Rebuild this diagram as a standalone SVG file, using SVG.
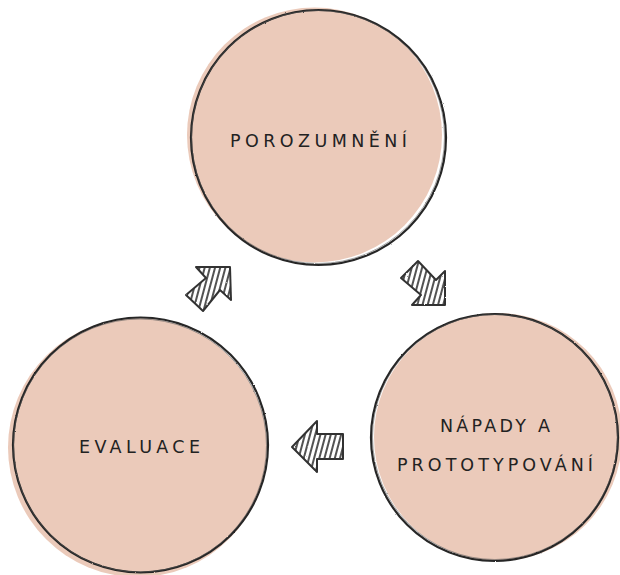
<svg xmlns="http://www.w3.org/2000/svg" width="620" height="575" viewBox="0 0 620 575">
  <defs>
    <style>
      .fill { fill: #EBCABA; stroke: none; }
      .ring { fill: none; stroke: #262626; stroke-width: 2.2; }
      .ring2 { fill: none; stroke: #555; stroke-width: 0.8; opacity: 0.7; }
      .label { font-family: "DejaVu Sans", "Liberation Sans", sans-serif; font-size: 17.5px; fill: #222; text-anchor: start; }
      .arrow { fill: url(#hatch); stroke: #333; stroke-width: 2; stroke-linejoin: round; }
    </style>
    <pattern id="hatch" patternUnits="userSpaceOnUse" width="5" height="5" patternTransform="rotate(15)">
      <rect width="5" height="5" fill="#fff"/>
      <line x1="2" y1="0" x2="2" y2="5" stroke="#333" stroke-width="1.7"/>
    </pattern>
    <filter id="rough" x="-5%" y="-5%" width="110%" height="110%">
      <feTurbulence type="fractalNoise" baseFrequency="0.9" numOctaves="2" seed="3" result="n"/>
      <feDisplacementMap in="SourceGraphic" in2="n" scale="1.6" xChannelSelector="R" yChannelSelector="G"/>
    </filter>
  </defs>

  <g id="node-porozumneni">
    <circle class="fill" cx="314.5" cy="135" r="127.5"/>
    <g filter="url(#rough)">
      <circle class="ring" cx="318.5" cy="137.5" r="127.5"/>
      <circle class="ring2" cx="318" cy="137" r="126.5"/>
    </g>
    <text class="label" x="230" y="147" textLength="177" lengthAdjust="spacing">POROZUMNĚNÍ</text>
  </g>

  <g id="node-napady">
    <circle class="fill" cx="498" cy="437" r="124"/>
    <g filter="url(#rough)">
      <circle class="ring" cx="494.5" cy="437.5" r="123.5"/>
      <circle class="ring2" cx="495" cy="437" r="122.5"/>
    </g>
    <text class="label" x="440" y="432" textLength="110" lengthAdjust="spacing">NÁPADY A</text>
    <text class="label" x="397" y="471" textLength="196" lengthAdjust="spacing">PROTOTYPOVÁNÍ</text>
  </g>

  <g id="node-evaluace">
    <circle class="fill" cx="137.5" cy="447.5" r="129.5"/>
    <g filter="url(#rough)">
      <circle class="ring" cx="140.5" cy="445" r="127.5"/>
      <circle class="ring2" cx="140" cy="445.5" r="126.5"/>
    </g>
    <text class="label" x="79" y="453" textLength="121" lengthAdjust="spacing">EVALUACE</text>
  </g>

  <g id="connectors" filter="url(#rough)">
    <!-- top-left arrow pointing NE, tip at (230,267) -->
    <polygon class="arrow" points="230,267 231,300 220,290 203,311 186,295 206,278 196,267"/>
    <!-- top-right arrow pointing SE, tip at (445,305) -->
    <polygon class="arrow" points="445,305 412,305 421,295 401,278 418,261 436,280 445,271"/>
    <!-- bottom arrow pointing left, tip at (292,447) -->
    <polygon class="arrow" points="292,447 317,421 317,434 343,434 343,459 317,459 317,472"/>
  </g>
</svg>
